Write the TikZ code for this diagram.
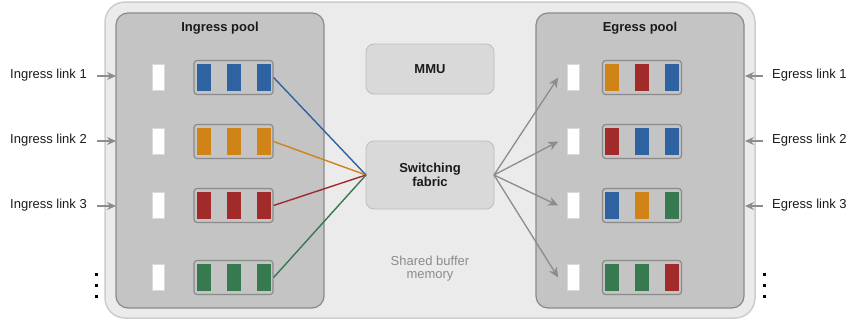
\documentclass[tikz,border=0pt]{standalone}
\usepackage{fontspec}
\setmainfont{Liberation Sans}
\usetikzlibrary{arrows.meta}
\definecolor{cblue}{HTML}{2F62A0}
\definecolor{corange}{HTML}{D08316}
\definecolor{cred}{HTML}{A12A2B}
\definecolor{cgreen}{HTML}{377A4F}
\definecolor{outerfill}{HTML}{EBEBEB}
\definecolor{outerdraw}{HTML}{CDCDCD}
\definecolor{poolfill}{HTML}{C4C4C4}
\definecolor{pooldraw}{HTML}{8A8A8A}
\definecolor{boxfill}{HTML}{D9D9D9}
\definecolor{boxdraw}{HTML}{BDBDBD}
\definecolor{arrgray}{HTML}{8C8C8C}
\definecolor{txt}{HTML}{1A1A1A}
\tikzset{
  outerbox/.style={draw=outerdraw, fill=outerfill, line width=1.5pt, rounded corners=20pt, minimum width=650pt, minimum height=316pt, inner sep=0pt},
  poolbox/.style={draw=pooldraw, fill=poolfill, line width=1.2pt, rounded corners=12pt, minimum width=208pt, minimum height=295pt, inner sep=0pt},
  unitbox/.style={draw=boxdraw, fill=boxfill, line width=0.8pt, rounded corners=8pt, minimum width=128pt, inner sep=0pt, font=\fontsize{13}{14}\selectfont\bfseries, text=txt, align=center},
  slot/.style={draw=white!85!black, fill=white, line width=0.6pt, minimum width=12pt, minimum height=26pt, inner sep=0pt},
  queue/.style={draw=pooldraw, fill=poolfill, line width=1.2pt, rounded corners=3pt, minimum width=79pt, minimum height=34pt, inner sep=0pt},
  bar/.style={fill=#1, minimum width=14pt, minimum height=27pt, inner sep=0pt},
  title/.style={font=\fontsize{13}{15}\selectfont\bfseries, text=txt},
  linklab/.style={font=\fontsize{13}{15}\selectfont, text=txt, inner sep=0pt},
  linkarr/.style={draw=arrgray, line width=1.3pt, -{Stealth[length=9pt,width=8pt,inset=3pt]}},
  egarr/.style={draw=arrgray, line width=1.3pt, -{Stealth[length=10pt,width=9pt,inset=3pt]}},
  conn/.style={draw=#1, line width=1.4pt},
  dot/.style={fill=black, minimum size=3pt, inner sep=0pt},
}
\begin{document}
\begin{tikzpicture}[x=1pt,y=-1pt]
\useasboundingbox (0,0) rectangle (850,324);
\node[outerbox] (outer) at (430,160) {};
\node[poolbox] (inpool) at (220,160.5) {};
\node[poolbox] (egpool) at (640,160.5) {};
\node[title] (intitle) at (220,28) {Ingress pool};
\node[title] (egtitle) at (640,28) {Egress pool};
\node[unitbox, minimum height=50pt] (mmu) at (430,69) {MMU};
\node[unitbox, minimum height=68pt] (sw) at (430,175) {Switching\\fabric};
\node[font=\fontsize{13}{13}\selectfont, text=arrgray, align=center] (shared) at (430,269) {Shared buffer\\memory};

% ingress rows
\foreach \i/\y/\c in {1/77.5/cblue,2/141.5/corange,3/205.5/cred,4/277.5/cgreen}{
  \node[slot] (inslot\i) at (158,\y) {};
  \node[queue] (inq\i) at (233.5,\y) {};
  \node[bar=\c] (inb\i a) at (203.5,\y) {};
  \node[bar=\c] (inb\i b) at (234,\y) {};
  \node[bar=\c] (inb\i c) at (264,\y) {};
}
% egress rows
\foreach \i/\y/\ca/\cb/\cc in {1/77.5/corange/cred/cblue,2/141.5/cred/cblue/cblue,3/205.5/cblue/corange/cgreen,4/277.5/cgreen/cgreen/cred}{
  \node[slot] (egslot\i) at (573.5,\y) {};
  \node[queue] (egq\i) at (642,\y) {};
  \node[bar=\ca] (egb\i a) at (612,\y) {};
  \node[bar=\cb] (egb\i b) at (642,\y) {};
  \node[bar=\cc] (egb\i c) at (672,\y) {};
}
% connectors ingress -> fabric
\coordinate (swin) at (366,175);
\coordinate (swout) at (494,175);
\draw[conn=cblue] (inq1.east) -- (swin);
\draw[conn=corange] (inq2.east) -- (swin);
\draw[conn=cred] (inq3.east) -- (swin);
\draw[conn=cgreen] (inq4.east) -- (swin);
% fabric -> egress
\foreach \i in {1,2,3,4}{
  \draw[egarr] (swout) -- ([xshift=-9pt]egslot\i.west);
}
% link labels
\foreach \i/\y in {1/75,2/140,3/205}{
  \node[linklab, anchor=east] (inlab\i) at (87,\y) {Ingress link \i};
  \coordinate (inend\i) at (116,\y+1);
  \draw[linkarr] ([xshift=10pt]inlab\i.east |- inend\i) -- (inend\i);
  \node[linklab, anchor=west] (eglab\i) at (772,\y) {Egress link \i};
  \coordinate (egend\i) at (745,\y+1);
  \draw[linkarr] ([xshift=-9pt]eglab\i.west |- egend\i) -- (egend\i);
}
% dots
\foreach \x/\n in {96/a,764/b}{
  \node[dot] (d\n1) at (\x,274) {};
  \node[dot] (d\n2) at (\x,285) {};
  \node[dot] (d\n3) at (\x,296) {};
}
\end{tikzpicture}
\end{document}
